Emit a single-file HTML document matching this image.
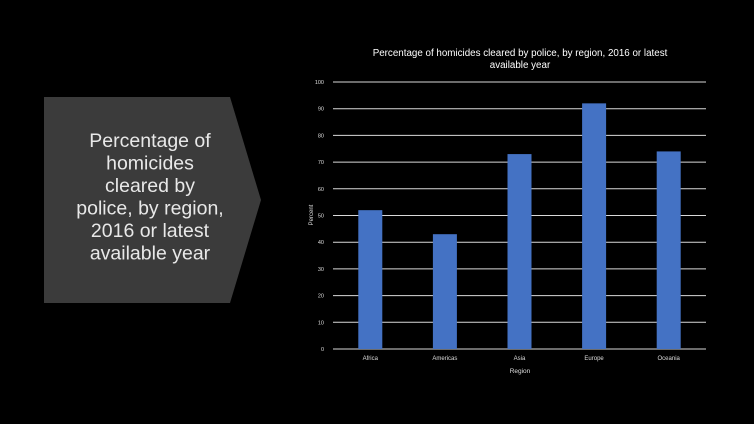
<!DOCTYPE html>
<html><head><meta charset="utf-8"><style>
html,body{margin:0;padding:0;background:#000;}
svg{display:block;font-family:"Liberation Sans",sans-serif;}
</style></head><body>
<svg width="754" height="424" viewBox="0 0 754 424">
<polygon points="44,97 230,97 261,200 230,303 44,303" fill="#3b3b3b"/>
<text x="150" y="147" fill="#e8e8e8" font-size="19.5" text-anchor="middle">
<tspan x="150" dy="0">Percentage of</tspan><tspan x="150" dy="22.5">homicides</tspan><tspan x="150" dy="22.5">cleared by</tspan><tspan x="150" dy="22.5">police, by region,</tspan><tspan x="150" dy="22.5">2016 or latest</tspan><tspan x="150" dy="22.5">available year</tspan>
</text>
<text x="520" y="56" fill="#fff" font-size="9.8" text-anchor="middle"><tspan x="520" dy="0">Percentage of homicides cleared by police, by region, 2016 or latest</tspan><tspan x="520" dy="12">available year</tspan></text>
<g id="grid"></g>
<g id="bars"></g>
<g id="labels"></g>
<text x="0" y="0" transform="translate(313,215) rotate(-90)" fill="#ddd" font-size="6" text-anchor="middle">Percent</text>
<text x="520" y="373" fill="#ddd" font-size="6.5" text-anchor="middle">Region</text>
</svg>
<script>
const categories=["Africa","Americas","Asia","Europe","Oceania"];
const values=[52,43,73,92,74];
const yTicks=[0,10,20,30,40,50,60,70,80,90,100];
const NS="http://www.w3.org/2000/svg";
const x0=333,x1=706,yTop=82,yBot=349;
function y(v){return yBot-(v/100)*(yBot-yTop);}
function xc(i){const w=(x1-x0)/categories.length;return x0+w*(i+0.5);}
const grid=document.getElementById('grid'),bars=document.getElementById('bars'),labels=document.getElementById('labels');
yTicks.forEach(t=>{
 const l=document.createElementNS(NS,'line');
 l.setAttribute('x1',x0);l.setAttribute('x2',x1);l.setAttribute('y1',y(t));l.setAttribute('y2',y(t));
 l.setAttribute('stroke','#d9d9d9');l.setAttribute('stroke-width','1');
 
 
 grid.appendChild(l);
 const tx=document.createElementNS(NS,'text');
 tx.setAttribute('x',324);tx.setAttribute('y',y(t)+2);tx.setAttribute('fill','#ddd');tx.setAttribute('font-size','5.5');tx.setAttribute('text-anchor','end');
 tx.textContent=t;
 
 
 labels.appendChild(tx);
});
categories.forEach((c,i)=>{
 const r=document.createElementNS(NS,'rect');
 const bw=24;
 r.setAttribute('x',xc(i)-bw/2);r.setAttribute('y',y(values[i]));r.setAttribute('width',bw);r.setAttribute('height',yBot-y(values[i]));
 r.setAttribute('fill','#4472c4');
 
 
 bars.appendChild(r);
 const tx=document.createElementNS(NS,'text');
 tx.setAttribute('x',xc(i));tx.setAttribute('y',360);tx.setAttribute('fill','#ddd');tx.setAttribute('font-size','6');tx.setAttribute('text-anchor','middle');
 tx.textContent=c;
 
 
 labels.appendChild(tx);
});
</script>
</body></html>
